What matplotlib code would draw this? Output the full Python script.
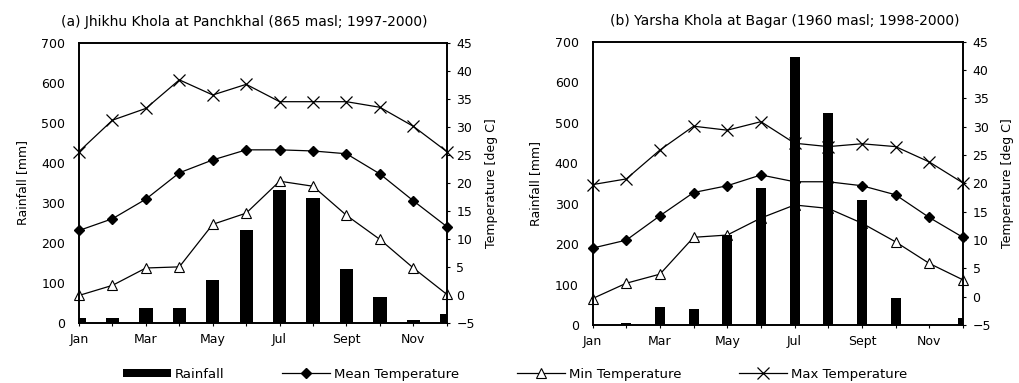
import numpy as np
import matplotlib
matplotlib.use("Agg")
import matplotlib.pyplot as plt

plt.rcParams['font.family'] = ['DejaVu Sans']

months = ['Jan', 'Feb', 'Mar', 'Apr', 'May', 'Jun', 'Jul', 'Aug', 'Sept', 'Oct', 'Nov', 'Dec']

# (a) Jhikhu Khola at Panchkhal
rain_a = [12, 12, 36, 36, 106, 233, 332, 312, 135, 65, 7, 21]
tmean_a = [11.5, 13.6, 17.1, 21.8, 24.1, 25.9, 25.9, 25.7, 25.2, 21.6, 16.8, 12.2]
tmin_a = [-0.1, 1.7, 4.8, 5.0, 12.6, 14.6, 20.3, 19.4, 14.2, 9.9, 4.8, 0.1]
tmax_a = [25.6, 31.2, 33.3, 38.4, 35.7, 37.6, 34.5, 34.5, 34.5, 33.5, 30.1, 25.6]

# (b) Yarsha Khola at Bagar
rain_b = [0, 6, 45, 41, 222, 339, 662, 524, 308, 68, 0, 18]
tmean_b = [8.6, 10.0, 14.3, 18.4, 19.6, 21.5, 20.3, 20.3, 19.6, 18.0, 14.0, 10.5]
tmin_b = [-0.3, 2.4, 4.0, 10.5, 10.9, 13.9, 16.2, 15.6, 13.0, 9.7, 5.9, 3.0]
tmax_b = [19.8, 20.8, 25.9, 30.1, 29.4, 30.9, 27.1, 26.5, 27.0, 26.5, 23.8, 20.1]

titles = ['(a) Jhikhu Khola at Panchkhal (865 masl; 1997-2000)',
          '(b) Yarsha Khola at Bagar (1960 masl; 1998-2000)']

fig = plt.figure(figsize=(10.2, 3.83), dpi=100)
rects = [[0.0775, 0.157, 0.3605, 0.731], [0.581, 0.151, 0.363, 0.740]]
data = [(rain_a, tmean_a, tmin_a, tmax_a, 0.4), (rain_b, tmean_b, tmin_b, tmax_b, 0.3)]
title_x = [0.45, 0.52]

fs = 9
x = np.arange(12)
for rect, (rain, tmean, tmin, tmax, bw), title, tx in zip(rects, data, titles, title_x):
    ax = fig.add_axes(rect)
    ax2 = ax.twinx()
    l1, = ax2.plot(x, tmean, color='black', lw=0.9, marker='D', ms=5, mfc='black', mec='black', clip_on=False)
    l2, = ax2.plot(x, tmin, color='black', lw=0.9, marker='^', ms=7, mfc='white', mec='black', mew=0.8, clip_on=False)
    l3, = ax2.plot(x, tmax, color='black', lw=0.9, marker='x', ms=8, mew=0.9, clip_on=False)
    bars = ax.bar(x, rain, width=bw, color='black')
    # bars in front of the temperature lines
    ax.set_zorder(ax2.get_zorder() + 1)
    ax.patch.set_visible(False)
    ax.set_xlim(0, 11)
    ax.set_ylim(0, 700)
    ax.set_yticks(np.arange(0, 701, 100))
    ax2.set_ylim(-5, 45)
    ax2.set_yticks(np.arange(-5, 46, 5))
    ax.set_xticks(x)
    ax.set_xticklabels([m if i % 2 == 0 else '' for i, m in enumerate(months)])
    ax.tick_params(axis='x', length=2, labelsize=fs, pad=5)
    ax.tick_params(axis='y', length=0, labelsize=fs, pad=10)
    ax2.tick_params(axis='y', length=2, labelsize=fs, pad=5)
    ax.set_ylabel('Rainfall [mm]', fontsize=fs, labelpad=9)
    ax2.set_ylabel('Temperature [deg C]', fontsize=fs, labelpad=7)
    for a in (ax, ax2):
        for s in a.spines.values():
            s.set_linewidth(1.2)
    ax.set_title(title, fontsize=10, pad=12, x=tx)

fig.legend([bars, l1, l2, l3], ['Rainfall', 'Mean Temperature', 'Min Temperature', 'Max Temperature'],
           loc='lower center', bbox_to_anchor=(0.505, -0.025), ncol=4, frameon=False,
           fontsize=9.5, handlelength=3.6, handleheight=0.5, columnspacing=4.4, handletextpad=0.3)

fig.savefig('out.png', dpi=100)
